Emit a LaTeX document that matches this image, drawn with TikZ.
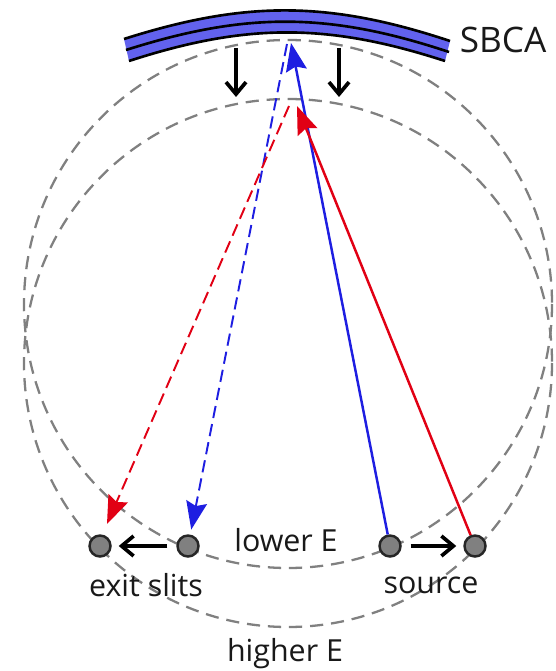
\documentclass[tikz,border=0pt]{standalone}
\usepackage{fontspec}
\setmainfont{Open Sans}
\usepackage[svgnames]{xcolor}
\usetikzlibrary{arrows.meta,positioning}
\definecolor{bandblue}{RGB}{98,98,238}
\definecolor{rayblue}{RGB}{30,30,225}
\definecolor{rayred}{RGB}{225,0,20}
\begin{document}
\begin{tikzpicture}[
  x=0.02cm, y=-0.02cm,
  rowland/.style={draw=black!50, line width=1.3pt, dash pattern=on 7.5pt off 4.5pt},
  slit/.style={circle, draw=black!85, line width=1.4pt, fill=black!50, minimum size=0.42cm, inner sep=0pt},
  movearrow/.style={-{Straight Barb[length=0.24cm,width=0.4cm]}, line width=2.1pt, black, shorten <=0.18cm, shorten >=0.14cm},
  ray/.style={line width=1.4pt, -{Stealth[length=0.56cm,width=0.42cm,inset=0.08cm]}},
  backray/.style={ray, line width=1.1pt, dash pattern=on 7pt off 3.5pt, shorten >=0.1cm},
  lbl/.style={font=\fontsize{17.3}{20}\selectfont, text=black!90, inner sep=0pt},
]
  \useasboundingbox (0,0) rectangle (555,671);

  % Rowland circles
  \draw[rowland] (288,304) circle (264);
  \draw[rowland] (288,363) circle (264);

  % Analyser
  \fill[bandblue] (124,39) to[bend left=18] (450,41) -- (445,61) to[bend right=18] (129,61) -- cycle;
  \draw[line width=1.5pt] (124,39) to[bend left=18] (450,41);
  \draw[line width=1.5pt] (126,50) to[bend left=18] (449,52);
  \draw[line width=1.5pt] (129,61) to[bend left=18] (445,61);
  \node[lbl, font=\fontsize{20}{22}\selectfont] (sbca) at (503,40) {SBCA};

  % Slits and source points
  \node[slit] (exitb) at (100,546) {};
  \node[slit] (exita) at (188,546) {};
  \node[slit] (srca) at (390,546) {};
  \node[slit] (srcb) at (475,546) {};

  % Focus points on the analyser
  \coordinate (tipblue) at (291,43);
  \coordinate (topblue) at (287,44);
  \coordinate (tipred) at (297,106);
  \coordinate (topred) at (289,106);
  \coordinate (corr) at (107,524);

  % Rays
  \draw[ray, rayblue] (srca) -- (tipblue);
  \draw[ray, rayred] (srcb) -- (tipred);
  \draw[backray, rayblue] (topblue) -- (exita);
  \draw[backray, rayred, shorten >=0pt] (topred) -- (corr);

  % Shifts
  \coordinate (downa) at (236,39);
  \coordinate (downb) at (339,39);
  \coordinate (enda) at (236,104);
  \coordinate (endb) at (339,104);
  \draw[movearrow] (downa) -- (enda);
  \draw[movearrow] (downb) -- (endb);
  \draw[movearrow] (exita) -- (exitb);
  \draw[movearrow] (srca) -- (srcb);

  % Labels
  \node[lbl] (lower) at (286,540) {lower E};
  \node[lbl] (exit) at (146,585) {exit slits};
  \node[lbl] (source) at (431,585) {source};
  \node[lbl] (higher) at (285,654) {higher E};
\end{tikzpicture}
\end{document}
